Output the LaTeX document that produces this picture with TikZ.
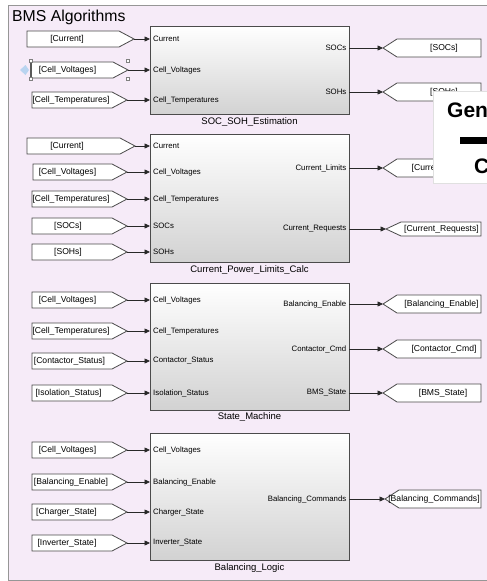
\documentclass[tikz,border=0pt]{standalone}
\usepackage{fontspec}
\setmainfont{Liberation Sans}
\usetikzlibrary{arrows.meta,shadows}

\definecolor{panelbg}{RGB}{246,235,248}
\definecolor{panelrule}{RGB}{150,150,150}
\definecolor{blockrule}{RGB}{75,75,75}
\definecolor{blockbot}{RGB}{210,210,210}
\definecolor{wirecol}{RGB}{40,40,40}
\definecolor{selblue}{RGB}{185,212,240}

\tikzset{
  panel/.style={fill=panelbg, draw=panelrule, line width=0.8pt},
  blockbox/.style={draw=blockrule, line width=0.9pt, top color=white, bottom color=blockbot,
    inner sep=0pt, outer sep=0pt, anchor=north west,
    drop shadow={shadow xshift=1.3pt, shadow yshift=-1.3pt, opacity=0.35, fill=black}},
  tagshape/.style={fill=white, draw=blockrule, line width=0.8pt, line join=miter},
  tagtext/.style={inner sep=0pt, font=\fontsize{8.6}{10}\selectfont},
  portlbl/.style={inner sep=0pt, font=\fontsize{7.8}{9}\selectfont},
  blkname/.style={inner sep=0pt, font=\fontsize{9.5}{11}\selectfont},
  wire/.style={draw=wirecol, line width=0.7pt, -{Triangle[length=5.5pt,width=5pt]}},
  handle/.style={fill=white, draw=gray, line width=0.5pt},
  cardtext/.style={anchor=base west, inner sep=0pt, font=\bfseries\fontsize{21}{24}\selectfont},
}

% From tag: flat left side, pointed right end (tip)
\newcommand\intag[6]{% name, left x, tip x, y, text centre x, text
  \draw[tagshape] (#2,#4-8) -- (#3-15,#4-8) -- (#3,#4) -- (#3-15,#4+8) -- (#2,#4+8) -- cycle;
  \node[tagtext] (#1) at (#5,#4) {#6};
  \coordinate (#1-tip) at (#3,#4);
}
% Goto tag: pointed left end (tip), flat right side at x=481
\newcommand\outtag[7]{% name, tip x, flat x, half height, y, text centre x, text
  \draw[tagshape] (#2,#5) -- (#3,#5-#4) -- (481,#5-#4) -- (481,#5+#4) -- (#3,#5+#4) -- cycle;
  \node[tagtext] (#1) at (#6,#5) {#7};
  \coordinate (#1-tip) at (#2,#5);
}
% block ports
\newcommand\inport[3]{% name, y, label
  \coordinate (#1) at (150,#2);
  \node[portlbl, anchor=west] (#1-lbl) at (153,#2) {#3};
}
\newcommand\outport[3]{% name, y, label
  \coordinate (#1) at (349,#2);
  \node[portlbl, anchor=east] (#1-lbl) at (346.5,#2) {#3};
}

\begin{document}
\begin{tikzpicture}[x=1pt, y=-1pt]
\useasboundingbox (0,0) rectangle (487,581);
\clip (0,0) rectangle (487,581);
\fill[white] (0,0) rectangle (487,581);

% subsystem area
\draw[panel] (8,5) rectangle (500,580);
\node[anchor=base west, inner sep=0pt, font=\fontsize{15.8}{18}\selectfont] (title) at (12,21.5) {BMS Algorithms};

% ---------------- SOC_SOH_Estimation ----------------
\node[blockbox, minimum width=199pt, minimum height=88pt] (b1) at (150,26) {};
\node[blkname] (b1-name) at (249.5,122) {SOC\_SOH\_Estimation};
\inport{b1-i1}{39}{Current}
\inport{b1-i2}{70}{Cell\_Voltages}
\inport{b1-i3}{100}{Cell\_Temperatures}
\outport{b1-o1}{48}{SOCs}
\outport{b1-o2}{92}{SOHs}

\intag{f11}{27}{134}{39}{67}{[Current]}
\intag{f12}{31}{128}{70}{67.5}{[Cell\_Voltages]}
\intag{f13}{32}{127}{100}{71}{[Cell\_Temperatures]}
\outtag{g11}{383}{397}{9}{48}{444}{[SOCs]}
\outtag{g12}{383}{397}{9}{92}{444}{[SOHs]}

\draw[wire] (f11-tip) -- (b1-i1);
\draw[wire] (f12-tip) -- (b1-i2);
\draw[wire] (f13-tip) -- (b1-i3);
\draw[wire] (b1-o1) -- (g11-tip);
\draw[wire] (b1-o2) -- (g12-tip);

% selection marks on the Cell_Voltages tag
\draw[line width=1.6pt, draw=gray!70!black] (31,62) -- (31,78);
\fill[selblue] (20,70) -- (25.5,65) -- (29,70) -- (25.5,75) -- cycle;
\foreach \hx/\hy [count=\k] in {31/61, 128/61, 31/79, 128/79}
  \node[handle, minimum size=3pt, inner sep=0pt] (h\k) at (\hx,\hy) {};

% ---------------- Current_Power_Limits_Calc ----------------
\node[blockbox, minimum width=199pt, minimum height=128pt] (b2) at (150,134) {};
\node[blkname] (b2-name) at (249.5,270) {Current\_Power\_Limits\_Calc};
\inport{b2-i1}{146}{Current}
\inport{b2-i2}{172}{Cell\_Voltages}
\inport{b2-i3}{199}{Cell\_Temperatures}
\inport{b2-i4}{226}{SOCs}
\inport{b2-i5}{252}{SOHs}
\outport{b2-o1}{168}{Current\_Limits}
\outport{b2-o2}{229}{Current\_Requests}

\intag{f21}{27}{135}{146}{67}{[Current]}
\intag{f22}{33}{127}{172}{67.5}{[Cell\_Voltages]}
\intag{f23}{32}{127}{199}{71}{[Cell\_Temperatures]}
\intag{f24}{32}{127}{226}{68}{[SOCs]}
\intag{f25}{32}{127}{252}{68}{[SOHs]}
\outtag{g21}{383}{397}{9}{168}{442}{[Current\_Limits]}
\outtag{g22}{386}{401}{7}{229}{441.5}{[Current\_Requests]}

\draw[wire] (f21-tip) -- (b2-i1);
\draw[wire] (f22-tip) -- (b2-i2);
\draw[wire] (f23-tip) -- (b2-i3);
\draw[wire] (f24-tip) -- (b2-i4);
\draw[wire] (f25-tip) -- (b2-i5);
\draw[wire] (b2-o1) -- (g21-tip);
\draw[wire] (b2-o2) -- (g22-tip);

% ---------------- State_Machine ----------------
\node[blockbox, minimum width=199pt, minimum height=127pt] (b3) at (150,283) {};
\node[blkname] (b3-name) at (249.5,417) {State\_Machine};
\inport{b3-i1}{300}{Cell\_Voltages}
\inport{b3-i2}{331}{Cell\_Temperatures}
\inport{b3-i3}{361}{Contactor\_Status}
\inport{b3-i4}{393}{Isolation\_Status}
\outport{b3-o1}{304}{Balancing\_Enable}
\outport{b3-o2}{349}{Contactor\_Cmd}
\outport{b3-o3}{393}{BMS\_State}

\intag{f31}{32}{127}{300}{67.5}{[Cell\_Voltages]}
\intag{f32}{32}{127}{331}{71}{[Cell\_Temperatures]}
\intag{f33}{32}{127}{361}{69.5}{[Contactor\_Status]}
\intag{f34}{32}{127}{393}{68.5}{[Isolation\_Status]}
\outtag{g31}{383}{397}{9}{304}{441.5}{[Balancing\_Enable]}
\outtag{g32}{383}{397}{9}{349}{444}{[Contactor\_Cmd]}
\outtag{g33}{383}{397}{9}{393}{443}{[BMS\_State]}

\draw[wire] (f31-tip) -- (b3-i1);
\draw[wire] (f32-tip) -- (b3-i2);
\draw[wire] (f33-tip) -- (b3-i3);
\draw[wire] (f34-tip) -- (b3-i4);
\draw[wire] (b3-o1) -- (g31-tip);
\draw[wire] (b3-o2) -- (g32-tip);
\draw[wire] (b3-o3) -- (g33-tip);

% ---------------- Balancing_Logic ----------------
\node[blockbox, minimum width=199pt, minimum height=127pt] (b4) at (150,433) {};
\node[blkname] (b4-name) at (249.5,568) {Balancing\_Logic};
\inport{b4-i1}{450}{Cell\_Voltages}
\inport{b4-i2}{482}{Balancing\_Enable}
\inport{b4-i3}{512}{Charger\_State}
\inport{b4-i4}{543}{Inverter\_State}
\outport{b4-o1}{499}{Balancing\_Commands}

\intag{f41}{32}{127}{450}{67.5}{[Cell\_Voltages]}
\intag{f42}{32}{127}{482}{71}{[Balancing\_Enable]}
\intag{f43}{32}{127}{512}{66.5}{[Charger\_State]}
\intag{f44}{32}{127}{543}{67}{[Inverter\_State]}
\outtag{g41}{385}{399}{9}{499}{434}{[Balancing\_Commands]}

\draw[wire] (f41-tip) -- (b4-i1);
\draw[wire] (f42-tip) -- (b4-i2);
\draw[wire] (f43-tip) -- (b4-i3);
\draw[wire] (f44-tip) -- (b4-i4);
\draw[wire] (b4-o1) -- (g41-tip);

% ---------------- white card in the upper right ----------------
\fill[black!12] (432.5,90.5) rectangle (500,183.5);
\fill[white] (433.5,91.5) rectangle (500,183);
\node[cardtext] (cardtop) at (447,117) {Gen};
\fill[black] (460,137) rectangle (500,144);
\node[cardtext] (cardbot) at (474,173) {C};
\end{tikzpicture}
\end{document}
